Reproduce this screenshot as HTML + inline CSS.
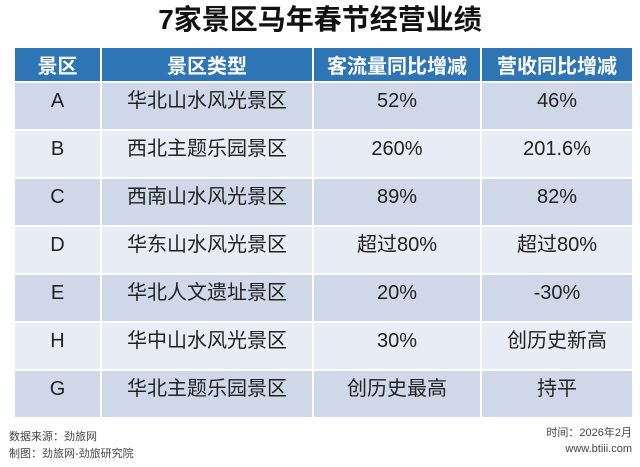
<!DOCTYPE html>
<html><head><meta charset="utf-8"><style>
body{margin:0;width:640px;height:467px;background:#fff;font-family:"Liberation Sans","Noto Sans CJK SC",sans-serif;position:relative;overflow:hidden}
.t{position:absolute;left:0;width:640px;top:3px;text-align:center;font-size:28px;font-weight:bold;color:#111;line-height:34px}
table{position:absolute;left:13px;top:46px;border-collapse:collapse;table-layout:fixed}
td,th{border:2px solid #fff;text-align:center;padding:0;font-size:20px;color:#222;font-weight:normal;white-space:nowrap}
th{background:#2e75b6;color:#fff;font-weight:bold;height:33px;font-size:20px}
td{height:46px;vertical-align:top;line-height:36px}
tr.d td{background:#cfd8e8}
tr.l td{background:#e8ecf4}
.f{position:absolute;font-size:11px;color:#444;line-height:16px}
</style></head><body>
<div class="t">7家景区马年春节经营业绩</div>
<table>
<colgroup><col style="width:87px"><col style="width:212px"><col style="width:168px"><col style="width:152px"></colgroup>
<tr><th>景区</th><th>景区类型</th><th>客流量同比增减</th><th>营收同比增减</th></tr>
<tr class="d"><td>A</td><td>华北山水风光景区</td><td>52%</td><td>46%</td></tr>
<tr class="l"><td>B</td><td>西北主题乐园景区</td><td>260%</td><td>201.6%</td></tr>
<tr class="d"><td>C</td><td>西南山水风光景区</td><td>89%</td><td>82%</td></tr>
<tr class="l"><td>D</td><td>华东山水风光景区</td><td>超过80%</td><td>超过80%</td></tr>
<tr class="d"><td>E</td><td>华北人文遗址景区</td><td>20%</td><td>-30%</td></tr>
<tr class="l"><td>H</td><td>华中山水风光景区</td><td>30%</td><td>创历史新高</td></tr>
<tr class="d"><td>G</td><td>华北主题乐园景区</td><td>创历史最高</td><td>持平</td></tr>
</table>
<div class="f" style="left:9px;top:429px">数据来源：劲旅网</div>
<div class="f" style="left:9px;top:446px">制图：劲旅网-劲旅研究院</div>
<div class="f" style="right:8px;top:425px;text-align:right">时间：2026年2月</div>
<div class="f" style="right:8px;top:441px;text-align:right">www.btiii.com</div>
</body></html>
